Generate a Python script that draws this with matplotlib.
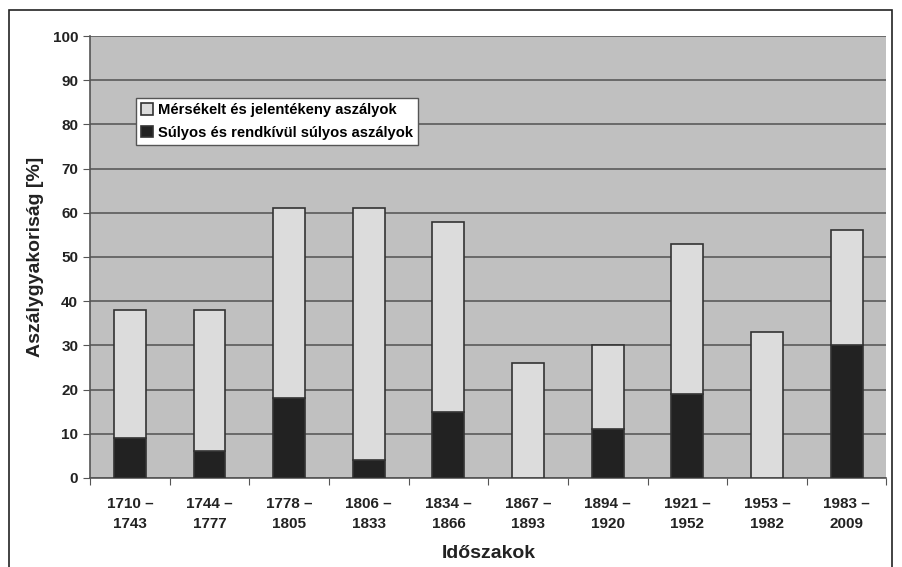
import matplotlib.pyplot as plt
import matplotlib.patches as mpatches
import numpy as np

periods = ["1710 –\n1743", "1744 –\n1777", "1778 –\n1805", "1806 –\n1833", "1834 –\n1866",
           "1867 –\n1893", "1894 –\n1920", "1921 –\n1952", "1953 –\n1982", "1983 –\n2009"]
severe = [9, 6, 18, 4, 15, 0, 11, 19, 0, 30]
moderate = [29, 32, 43, 57, 43, 26, 19, 34, 33, 26]

plt.rcParams['font.family'] = ['Liberation Sans', 'DejaVu Sans']

fig = plt.figure(figsize=(9.02, 5.67), dpi=100)
ax = fig.add_axes([0.0998, 0.157, 0.883, 0.7795])

x = np.arange(len(periods))
ax.set_facecolor("#c0c0c0")
ax.grid(axis="y", color="#5a5a5a", linewidth=1.2)
ax.set_axisbelow(True)

ax.bar(x, severe, width=0.4, color="#222222", edgecolor="#333333", linewidth=1.2,
       label="Súlyos és rendkívül súlyos aszályok", zorder=3)
ax.bar(x, moderate, width=0.4, bottom=severe, color="#dcdcdc", edgecolor="#333333",
       linewidth=1.2, label="Mérsékelt és jelentékeny aszályok", zorder=3)

ax.set_xlim(-0.5, len(periods) - 0.5)
ax.set_ylim(0, 100)
ax.set_yticks(range(0, 101, 10))
ax.set_xticks(np.arange(-0.5, len(periods), 1.0))
ax.set_xticklabels([])
ax.set_xticks(x, minor=True)
ax.set_xticklabels(periods, minor=True, fontsize=11, fontweight="bold", color="#222222",
                   linespacing=1.5)
ax.tick_params(axis="x", which="minor", length=0, pad=14)
ax.tick_params(axis="x", which="major", length=5, color="#555555")
ax.tick_params(axis="y", length=5, color="#555555", labelsize=11, labelcolor="#222222")
for lbl in ax.get_yticklabels():
    lbl.set_fontweight("bold")

for side in ["top", "right"]:
    ax.spines[side].set_visible(False)
for side in ["left", "bottom"]:
    ax.spines[side].set_color("#555555")
    ax.spines[side].set_linewidth(1.2)

ax.set_xlabel("Időszakok", fontsize=14, fontweight="bold", color="#222222", labelpad=10)
ax.set_ylabel("Aszálygyakoriság [%]", fontsize=14, fontweight="bold", color="#222222", labelpad=6)

handles, labels = ax.get_legend_handles_labels()
leg = ax.legend(handles[::-1], labels[::-1], loc="upper left", bbox_to_anchor=(0.058, 0.86),
                prop={"weight": "bold", "size": 10.6}, frameon=True, fancybox=False,
                framealpha=1, edgecolor="#555555", handlelength=0.8, handleheight=0.8,
                handletextpad=0.3, borderpad=0.35, labelspacing=0.6, borderaxespad=0)
leg.get_frame().set_linewidth(1.0)

fig.patches.append(mpatches.Rectangle((9 / 902, -5 / 567), 883 / 902, 562 / 567,
                                      transform=fig.transFigure, fill=False,
                                      edgecolor="#222222", linewidth=1.2))

fig.savefig("out.png", dpi=100)
